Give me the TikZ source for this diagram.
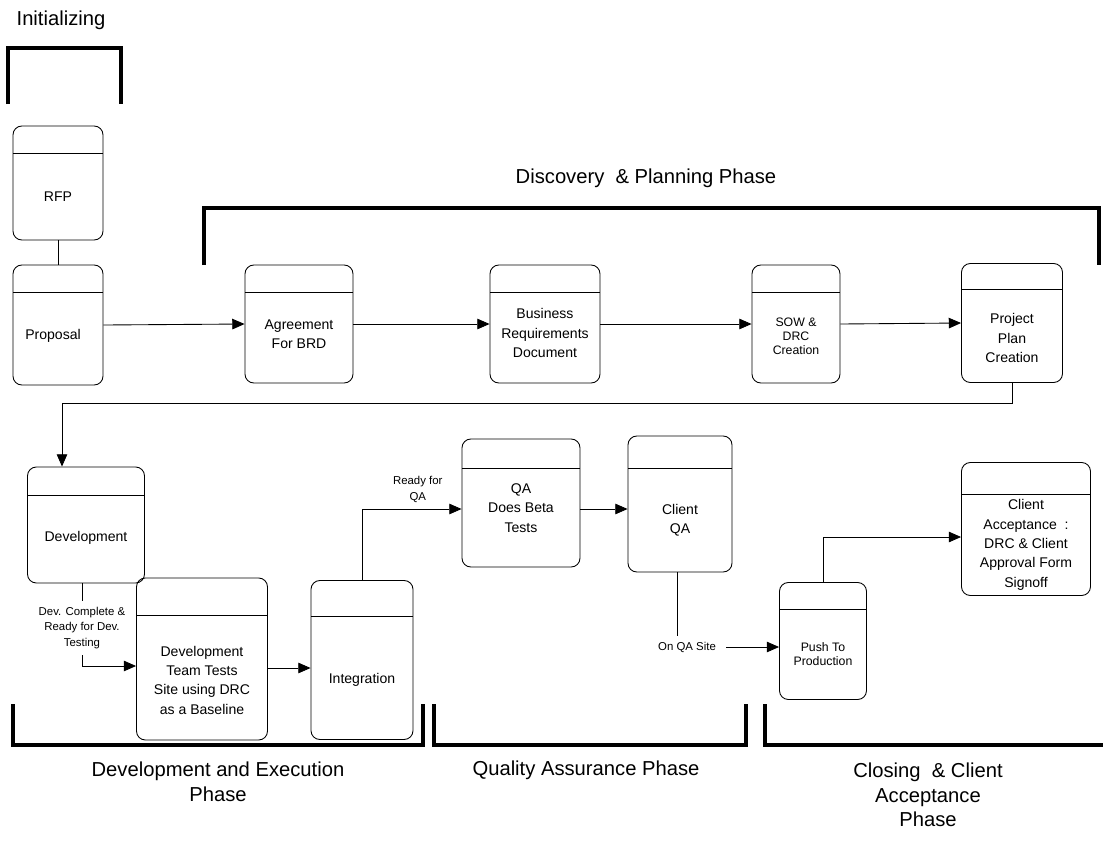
\documentclass[tikz,border=0pt]{standalone}
\usepackage{fontspec}
\setmainfont{Liberation Sans}
\usetikzlibrary{arrows.meta,positioning}

\tikzset{
  procbox/.style={draw, line width=0.5pt, rounded corners=5pt,
    path picture={\draw[line width=0.4pt]
      ([yshift=-#1]path picture bounding box.north west) --
      ([yshift=-#1]path picture bounding box.north east);}},
  procbox/.default=0.54cm,
  boxtext/.style={align=center, font=\fontsize{8}{11}\selectfont},
  smalltext/.style={align=center, font=\fontsize{7}{8}\selectfont},
  flowlabel/.style={align=center, font=\fontsize{6.5}{9}\selectfont},
  phaselabel/.style={align=center, font=\fontsize{11.5}{14}\selectfont},
  bracket/.style={line width=2.3pt},
  flow/.style={line width=0.5pt, -{Triangle[length=7pt,width=6pt]}},
  link/.style={line width=0.5pt}
}

\begin{document}
\begin{tikzpicture}[x=0.02cm, y=-0.02cm]
  \useasboundingbox (0,0) rectangle (1103,846);

  %% phase brackets
  \draw[bracket] (8,104) -- (8,48) -- (121,48) -- (121,104);
  \draw[bracket] (204,265) -- (204,208) -- (1099,208) -- (1099,265);
  \draw[bracket] (13,704) -- (13,745) -- (423,745) -- (423,704);
  \draw[bracket] (434,704) -- (434,745) -- (746,745) -- (746,704);
  \draw[bracket] (765,704) -- (765,745) -- (1110,745);

  %% phase names
  \node[phaselabel] (initlbl) at (61,20) {Initializing};
  \node[phaselabel] (disclbl) at (646,178) {Discovery \ \& Planning Phase};
  \node[phaselabel] (devlbl) at (218,782) {Development and Execution\\Phase};
  \node[phaselabel] (qalbl) at (586,770) {Quality Assurance Phase};
  \node[phaselabel] (closelbl) at (928,795) {Closing \ \& Client\\Acceptance\\Phase};

  %% process boxes
  \node[procbox, minimum width=1.8cm, minimum height=2.28cm,
    label={[boxtext, yshift=-0.28cm]center:RFP}] (rfp) at (58,183) {};
  \node[procbox, minimum width=1.8cm, minimum height=2.4cm,
    label={[boxtext, yshift=-0.22cm, xshift=-0.1cm]center:Proposal}] (prop) at (58,325) {};
  \node[procbox, minimum width=2.16cm, minimum height=2.36cm,
    label={[boxtext, yshift=-0.2cm]center:Agreement\\For BRD}] (agree) at (299,324) {};
  \node[procbox, minimum width=2.2cm, minimum height=2.36cm,
    label={[boxtext, yshift=-0.18cm]center:Business\\Requirements\\Document}] (brd) at (545,324) {};
  \node[procbox, minimum width=1.76cm, minimum height=2.36cm,
    label={[smalltext, yshift=-0.24cm]center:SOW \&\\DRC\\Creation}] (sow) at (796,324) {};
  \node[procbox=0.52cm, minimum width=2.02cm, minimum height=2.38cm,
    label={[boxtext, yshift=-0.3cm]center:Project\\Plan\\Creation}] (plan) at (1012,323) {};

  \node[procbox=0.56cm, minimum width=2.34cm, minimum height=2.32cm,
    label={[boxtext, yshift=-0.26cm]center:Development}] (dev) at (86,525) {};
  \node[procbox=0.74cm, minimum width=2.62cm, minimum height=3.24cm,
    label={[boxtext, yshift=-0.42cm]center:Development\\Team Tests\\Site using DRC\\as a Baseline}] (dtt) at (202,659) {};
  \node[procbox=0.72cm, minimum width=2.04cm, minimum height=3.18cm,
    label={[boxtext, yshift=-0.4cm]center:Integration}] (integ) at (362,660) {};
  \node[procbox=0.58cm, minimum width=2.36cm, minimum height=2.56cm,
    label={[boxtext, yshift=-0.1cm]center:QA\\Does Beta\\Tests}] (qa) at (521,503) {};
  \node[procbox=0.64cm, minimum width=2.08cm, minimum height=2.72cm,
    label={[boxtext, yshift=-0.32cm]center:Client\\QA}] (cqa) at (680,504) {};
  \node[procbox, minimum width=1.74cm, minimum height=2.34cm,
    label={[smalltext, yshift=-0.26cm]center:Push To\\Production}] (push) at (823,641) {};
  \node[procbox=0.64cm, minimum width=2.58cm, minimum height=2.66cm,
    label={[boxtext, yshift=-0.32cm]center:Client\\Acceptance \ :\\DRC \& Client\\Approval Form\\Signoff}] (acc) at (1026,529) {};

  %% connectors
  \coordinate (turn) at (62,403);
  \draw[link] (rfp.south) -- (prop.north);
  \draw[flow] (prop.east) -- (agree.west);
  \draw[flow] (agree.east) -- (brd.west);
  \draw[flow] (brd.east) -- (sow.west);
  \draw[flow] (sow.east) -- (plan.west);
  \draw[flow] (plan.south) |- (turn) -- (turn |- dev.north);
  \draw[flow] ([xshift=-0.08cm]dev.south) |- node[pos=0.27, fill=white, flowlabel]
    {Dev. Complete \&\\Ready for Dev.\\Testing} ([yshift=-0.14cm]dtt.west);
  \draw[flow] ([yshift=-0.18cm]dtt.east) -- ([yshift=-0.18cm]dtt.east -| integ.west);
  \draw[flow] (integ.north) |- node[pos=0.78, above, flowlabel] {Ready for\\QA}
    ([yshift=-0.12cm]qa.west);
  \draw[flow] ([yshift=-0.12cm]qa.east) -- ([yshift=-0.12cm]qa.east -| cqa.west);
  \draw[flow] ([xshift=-0.06cm]cqa.south) |- node[pos=0.5, fill=white, inner xsep=6pt, xshift=0.2cm, flowlabel]
    {On QA Site} ([yshift=-0.12cm]push.west);
  \draw[flow] (push.north) |- ([yshift=-0.16cm]acc.west);
\end{tikzpicture}
\end{document}
